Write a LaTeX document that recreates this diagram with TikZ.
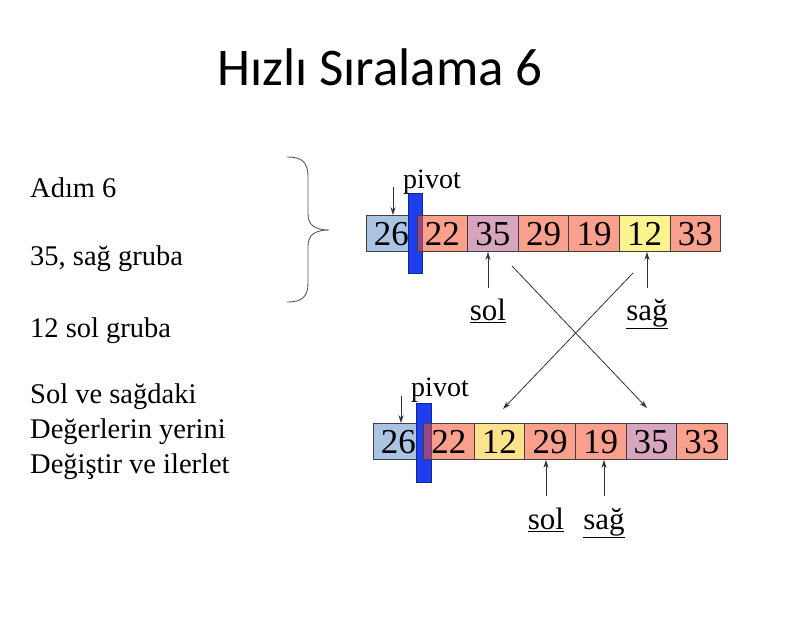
\documentclass[tikz,border=0pt]{standalone}
\usepackage{fontspec}
\setmainfont{Liberation Serif}
\newfontfamily\titlefont{Carlito}
\usetikzlibrary{arrows.meta}

\definecolor{cellblue}{RGB}{170,196,228}
\definecolor{cellred}{RGB}{246,82,46}
\definecolor{cellpink}{RGB}{215,166,190}
\definecolor{cellyellow}{RGB}{252,242,142}
\definecolor{cellgold}{RGB}{255,226,140}
\definecolor{pivotbar}{RGB}{30,62,240}
\definecolor{bracegray}{RGB}{90,90,90}

\tikzset{
  cell/.style={draw=black!75, line width=0.8pt, minimum width=50.6pt,
    minimum height=36pt, inner sep=0pt, text height=23pt, text depth=0pt,
    font=\fontsize{35}{35}\selectfont},
  bluecell/.style={cell, fill=cellblue},
  redcell/.style={cell, fill=cellred, fill opacity=0.55, text opacity=1},
  pinkcell/.style={cell, fill=cellpink},
  yellowcell/.style={cell, fill=cellyellow},
  goldcell/.style={cell, fill=cellgold},
  pivotbox/.style={fill=pivotbar, draw=pivotbar!60!black, line width=0.6pt},
  ptr/.style={draw=black!80, line width=0.9pt, -{Stealth[length=8pt,width=5pt]}},
  crossline/.style={draw=black!80, line width=0.8pt, -{Stealth[length=8pt,width=5pt]}},
  sidetext/.style={anchor=base west, inner sep=0pt, font=\fontsize{28.5}{28.5}\selectfont},
  lbl/.style={anchor=base, inner sep=0pt, font=\fontsize{31}{31}\selectfont},
  pivlbl/.style={anchor=base, inner sep=0pt, font=\fontsize{28}{28}\selectfont},
}

\begin{document}
\begin{tikzpicture}[x=1pt,y=-1pt]
\useasboundingbox (0,0) rectangle (808,626);
\fill[white] (0,0) rectangle (808,626);

% title
\node[anchor=base, inner sep=0pt, font=\titlefont\fontsize{53}{53}\selectfont]
  (title) at (380,85) {Hızlı Sıralama 6};

% explanatory text on the left
\node[sidetext] (t1) at (30,197) {Adım 6};
\node[sidetext] (t2) at (30,265) {35, sağ gruba};
\node[sidetext] (t3) at (30,337) {12 sol gruba};
\node[sidetext] (t4) at (30,403) {Sol ve sağdaki};
\node[sidetext] (t5) at (30,438) {Değerlerin yerini};
\node[sidetext] (t6) at (30,473) {Değiştir ve ilerlet};

% right curly brace
\draw[bracegray, line width=0.9pt]
  (287,157) .. controls (302,157) and (308,162) .. (308,177)
  -- (308,214) .. controls (308,225) and (315,230) .. (329,230)
  .. controls (315,230) and (308,235) .. (308,246)
  -- (308,283) .. controls (308,297) and (302,302) .. (287,302);

% ---------- first row ----------
\node[bluecell] (a0) at (391.3,233.5) {26};
\fill[pivotbox] (408,193) rectangle (422,273);
\node[redcell]    (a1) at (442.3,233.5) {22};
\node[pinkcell]   (a2) at (492.9,233.5) {35};
\node[redcell]    (a3) at (543.5,233.5) {29};
\node[redcell]    (a4) at (594.1,233.5) {19};
\node[yellowcell] (a5) at (644.7,233.5) {12};
\node[redcell]    (a6) at (695.3,233.5) {33};

\node[pivlbl] (piv1) at (432,188) {pivot};
\coordinate (p1) at (393,187);
\draw[ptr] (p1) -- (p1 |- a0.north);

\node[lbl] (sol1) at (488,320) {\underline{sol}};
\node[lbl] (sag1) at (647,320) {\underline{sağ}};
\coordinate (s1) at (488,288);
\coordinate (g1) at (647,288);
\draw[ptr] (s1) -- (s1 |- a2.south);
\draw[ptr] (g1) -- (g1 |- a5.south);

% ---------- second row ----------
\node[bluecell] (b0) at (398.3,441.5) {26};
\fill[pivotbox] (416,403) rectangle (431,482);
\node[redcell]  (b1) at (448.8,441.5) {22};
\node[goldcell] (b2) at (499.4,441.5) {12};
\node[redcell]  (b3) at (550,441.5) {29};
\node[redcell]  (b4) at (600.6,441.5) {19};
\node[pinkcell] (b5) at (651.2,441.5) {35};
\node[redcell]  (b6) at (701.8,441.5) {33};

\node[pivlbl] (piv2) at (440,396) {pivot};
\coordinate (p2) at (401,396);
\draw[ptr] (p2) -- (p2 |- b0.north);

\node[lbl] (sol2) at (546,529) {\underline{sol}};
\node[lbl] (sag2) at (604,529) {\underline{sağ}};
\coordinate (s2) at (546,496);
\coordinate (g2) at (604,496);
\draw[ptr] (s2) -- (s2 |- b3.south);
\draw[ptr] (g2) -- (g2 |- b4.south);

% swap arrows between the rows
\coordinate (x1s) at (512,266);
\coordinate (x1e) at (647,408);
\coordinate (x2s) at (633,273);
\coordinate (x2e) at (503,409);
\draw[crossline] (x1s) -- (x1e);
\draw[crossline] (x2s) -- (x2e);
\end{tikzpicture}
\end{document}
